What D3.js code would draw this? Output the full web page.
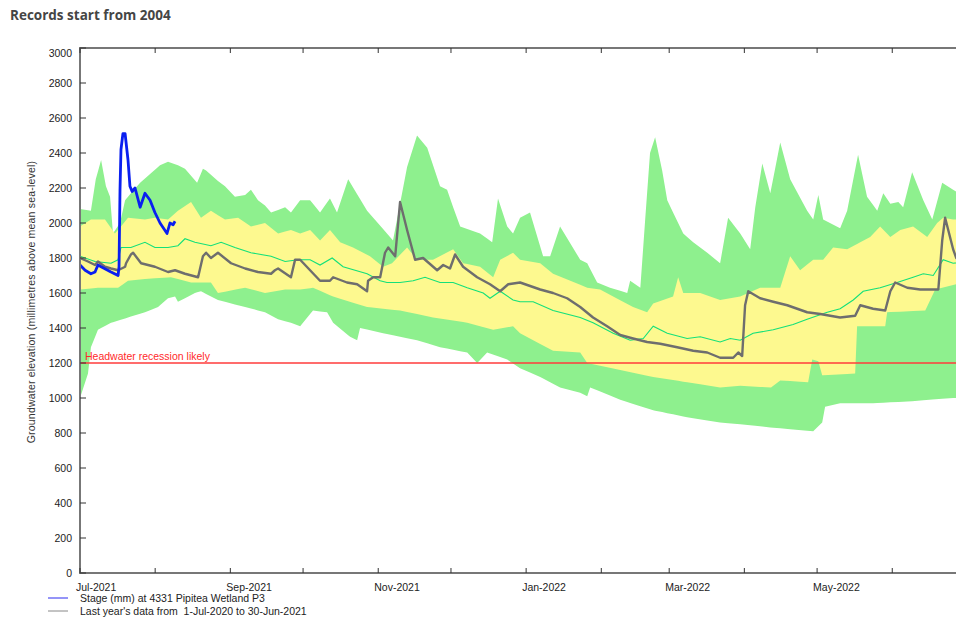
<!DOCTYPE html>
<html>
<head>
<script src="https://d3js.org/d3.v7.min.js"></script>
<style>
  body { margin: 0; background: #fff; }
  text { font-family: "Liberation Sans", Arial, sans-serif; }
  .title { font-family: "Open Sans", sans-serif; font-weight: 700; font-size: 13.5px; fill: #454545; }
  .tick-label { font-size: 10.5px; fill: #222; }
</style>
</head>
<body>
<svg id="chart" width="956" height="619"></svg>
<script>
// days since 1-Jul-2021, value in mm
const maxEnvelope = [[0,2080],[4.5,2070],[6.5,2250],[8.7,2360],[10.7,2210],[12.4,2150],[13.6,1940],[16.5,2000],[18.6,2130],[21,2170],[24.8,2230],[28.9,2280],[33,2330],[36.3,2350],[40.4,2330],[43.3,2310],[48.3,2230],[50.7,2310],[52,2300],[56.9,2240],[59.8,2210],[63.9,2150],[68.1,2160],[70.5,2190],[73.4,2130],[76.3,2100],[78.8,2060],[84.6,2090],[87,2060],[90.8,2130],[94.9,2130],[99,2060],[103.1,2140],[106,2060],[110.6,2250],[118.4,2070],[126.6,1940],[129.1,1900],[134.9,2320],[139,2500],[143.2,2430],[148.5,2210],[151.4,2190],[153.9,2090],[156.8,1980],[165,1940],[170,1890],[172.4,2140],[176.2,1980],[178.6,1940],[181.5,2030],[185.6,2060],[191,1810],[193.9,1810],[198,1980],[206.3,1790],[209.2,1770],[213.3,1660],[218.6,1630],[225.7,1600],[226.9,1670],[231.1,1630],[233.1,2020],[235.1,2400],[237.2,2490],[240.1,2300],[242.2,2130],[244.6,2060],[248.8,1940],[252.9,1890],[258.7,1830],[264,1770],[267.3,2030],[272.3,1940],[276.4,1850],[278.5,2090],[281.4,2340],[284.7,2170],[288.8,2460],[292.9,2250],[299.9,2070],[302.4,2020],[304.5,2160],[306.5,2020],[313.5,1970],[316.4,2070],[320.9,2390],[324.6,2150],[328.8,2070],[331.3,2170],[334.2,2110],[337.5,2120],[339.5,2090],[343.2,2290],[347.8,2130],[351.5,2020],[355.6,2230],[360.1,2190],[365,2150]];
const minEnvelope = [[0,1000],[3.3,1140],[4.5,1290],[7.4,1390],[12.8,1430],[19.8,1460],[26.8,1490],[32.2,1520],[36.3,1570],[39.2,1580],[40.4,1550],[47.4,1600],[49.9,1610],[56.9,1560],[68.1,1520],[76.3,1490],[81.7,1450],[87,1430],[90.8,1410],[96.1,1500],[101.9,1490],[104.4,1430],[111.4,1350],[114.3,1330],[115.5,1400],[125,1370],[139,1330],[148.5,1290],[159.7,1260],[163.8,1200],[167.9,1260],[176.2,1220],[181.5,1170],[189.8,1120],[198,1060],[206.3,1030],[209.2,1010],[210.4,1060],[222.8,990],[236.4,930],[250.4,890],[264,860],[272.3,850],[286,830],[302.4,810],[306.1,860],[307.3,950],[313.5,970],[327.1,970],[341.2,980],[360.1,1000],[365,1000]];
const upperQuartile = [[0,1980],[4.5,2020],[10.3,2020],[14.4,1940],[16.9,1980],[19.8,2030],[26.8,2020],[30.9,2030],[36.3,2020],[40.4,2070],[45.8,2120],[49.9,2030],[54,2070],[59.8,2020],[65.2,2030],[70.5,1980],[76.3,2000],[81.7,1940],[87,1960],[90.8,1940],[94.9,1960],[99,1900],[103.1,1960],[107.3,1890],[112.6,1860],[119.6,1810],[125,1750],[128.7,1770],[134.9,1860],[139,1790],[145.6,1790],[153.9,1850],[158,1770],[165,1750],[170.4,1690],[173.3,1790],[178.6,1830],[181.5,1790],[189.8,1770],[195.1,1710],[209.2,1630],[214.5,1620],[219.9,1580],[228.1,1520],[233.9,1490],[236.4,1540],[244.6,1580],[246.7,1690],[248.8,1600],[255.8,1600],[264,1560],[272.3,1580],[280.5,1630],[288.8,1630],[292.9,1810],[297,1730],[302.4,1790],[306.5,1790],[310.6,1860],[316.4,1850],[321.8,1890],[325.9,1920],[330,1980],[334.2,1920],[338.3,1960],[343.6,1980],[349.4,1920],[353.5,2000],[356,2030],[360.1,2020],[365,2020]];
const lowerQuartile = [[0,1620],[7.4,1630],[15.7,1630],[19.8,1670],[26.8,1680],[37.5,1690],[45.8,1660],[54,1660],[56.9,1600],[68.1,1630],[76.3,1600],[84.6,1620],[90.8,1620],[96.1,1630],[104.4,1580],[118.4,1520],[132,1500],[145.6,1460],[159.7,1430],[170.4,1390],[178.6,1410],[181.5,1370],[195.1,1270],[206.3,1260],[209.2,1200],[222.8,1160],[236.4,1120],[250.4,1090],[264,1060],[272.3,1070],[285,1060],[288.8,1100],[300.3,1090],[302,1220],[304.5,1210],[306.1,1130],[319.7,1140],[320.5,1410],[332.1,1410],[332.9,1490],[348.6,1500],[352.7,1620],[361.4,1650],[365,1650]];
const medianLine = [[0,1810],[6.2,1780],[12.8,1770],[15.7,1790],[16.9,1860],[21,1860],[26.8,1890],[30.9,1860],[36.3,1860],[40.4,1870],[43.3,1910],[47.4,1890],[54,1870],[58.2,1890],[63.9,1860],[70.5,1830],[78.8,1810],[84.6,1780],[89.9,1790],[94.9,1790],[99,1760],[104,1800],[108.5,1750],[118.4,1710],[123.8,1670],[126.6,1660],[132,1660],[137.4,1670],[142.3,1690],[148.5,1660],[153.9,1660],[159.7,1630],[166.3,1600],[169.1,1570],[173.3,1610],[178.6,1560],[181.5,1550],[186.9,1550],[195.1,1500],[206.3,1460],[211.6,1430],[219.9,1370],[226.9,1330],[232.3,1340],[236.4,1410],[242.2,1370],[250.4,1340],[255.8,1350],[264,1320],[268.2,1340],[272.3,1330],[277.6,1370],[285.9,1390],[294.1,1420],[299.9,1450],[308.2,1490],[313.5,1510],[318.9,1560],[323,1610],[330,1630],[337,1660],[343.6,1690],[347.8,1710],[351.9,1700],[356,1790],[360.1,1770],[365,1780]];
const lastYear = [[0,1800],[3.3,1780],[6.2,1760],[7.4,1780],[10.3,1750],[12.8,1740],[15.7,1730],[18.6,1750],[19,1770],[21,1820],[21.9,1830],[25.2,1770],[30.9,1750],[36.3,1720],[39.2,1730],[43.3,1710],[48.7,1690],[50.7,1810],[52,1830],[54,1800],[56.9,1830],[62.3,1770],[68.1,1740],[73.4,1720],[78.8,1710],[80.4,1730],[81.7,1740],[87,1690],[88.7,1790],[90.8,1790],[94.9,1730],[99,1670],[103.1,1670],[104.4,1690],[110.1,1660],[114.3,1650],[118.4,1610],[118.8,1670],[120.9,1690],[123.8,1690],[125.8,1830],[127.1,1860],[130,1810],[132,2120],[134.9,1960],[138.2,1790],[141.5,1800],[147.3,1730],[149.8,1760],[152.6,1740],[154.7,1820],[158,1750],[163.8,1690],[169.1,1650],[173.3,1610],[176.6,1650],[181.5,1660],[189.8,1620],[195.1,1600],[200.9,1570],[206.3,1520],[211.6,1460],[217.4,1410],[222.8,1360],[228.1,1340],[233.9,1320],[239.3,1310],[246.3,1290],[252.9,1270],[258.7,1260],[264,1230],[269.4,1230],[271.5,1260],[273.1,1240],[274.3,1530],[275.6,1610],[280.5,1570],[285.9,1550],[291.7,1530],[299.9,1490],[305.3,1480],[313.5,1460],[319.7,1470],[321.8,1530],[327.1,1510],[332.1,1500],[334.2,1610],[336.2,1660],[341.2,1630],[346.5,1620],[354,1620],[355.6,1900],[356.8,2030],[360.1,1850],[361.4,1800],[365,1740]];
const currentStage = [[0,1760],[2.1,1730],[4.5,1710],[6.2,1720],[7.4,1760],[8.7,1750],[12.8,1720],[15.7,1700],[16.1,1750],[16.5,2190],[16.9,2420],[17.7,2510],[18.6,2510],[19.8,2360],[20.6,2210],[21.5,2180],[22.7,2200],[24.8,2090],[26.8,2170],[28.9,2130],[30.9,2060],[33,2000],[35.9,1940],[37.1,2000],[38.4,1990],[39.2,2010]];
const recessionLevel = 1200;
const recessionLabel = 'Headwater recession likely';
const yTicks = [0,200,400,600,800,1000,1200,1400,1600,1800,2000,2200,2400,2600,2800,3000];
const legendLabels = ['Stage (mm) at 4331 Pipitea Wetland P3', "Last year's data from  1-Jul-2020 to 30-Jun-2021"];

const svg = d3.select('#chart');
const start = new Date(2021, 6, 1);
const end = new Date(2022, 6, 1);
const toDate = (d) => new Date(start.getTime() + d * 864e5);

const x = d3.scaleTime().domain([start, end]).range([80, 965]);
const y = d3.scaleLinear().domain([0, 3000]).range([573, 48]);
const axisColor = '#777';

svg.append('rect').attr('width', 956).attr('height', 619).attr('fill', '#fff');

svg.append('text').attr('class', 'title').attr('x', 10).attr('y', 20).text('Records start from 2004');

svg.append('clipPath').attr('id', 'plotClip')
  .append('rect').attr('x', 80).attr('y', 48).attr('width', 885).attr('height', 525);

const plot = svg.append('g').attr('clip-path', 'url(#plotClip)');

// envelopes: merge min/max and quartiles onto a common set of days
function band(lowArr, highArr) {
  const days = Array.from(new Set(lowArr.map(d => d[0]).concat(highArr.map(d => d[0])))).sort((a, b) => a - b);
  const lo = d3.scaleLinear().domain(lowArr.map(d => d[0])).range(lowArr.map(d => d[1]));
  const hi = d3.scaleLinear().domain(highArr.map(d => d[0])).range(highArr.map(d => d[1]));
  return days.map(d => ({ day: d, low: lo(d), high: hi(d) }));
}

const area = d3.area()
  .x(d => x(toDate(d.day)))
  .y0(d => y(d.low))
  .y1(d => y(d.high));

plot.append('path').datum(band(minEnvelope, maxEnvelope)).attr('d', area).attr('fill', '#8ef08e');
plot.append('path').datum(band(lowerQuartile, upperQuartile)).attr('d', area).attr('fill', '#fdf98f');

const line = d3.line().x(d => x(toDate(d[0]))).y(d => y(d[1]));

plot.append('path').datum(medianLine).attr('d', line)
  .attr('fill', 'none').attr('stroke', '#13e07a').attr('stroke-width', 1.1);

plot.append('line')
  .attr('x1', 80).attr('x2', 965)
  .attr('y1', y(recessionLevel)).attr('y2', y(recessionLevel))
  .attr('stroke', '#ff3b3b').attr('stroke-width', 1.5);

plot.append('text')
  .attr('x', 85).attr('y', y(recessionLevel) - 3)
  .attr('fill', '#ff2a2a').attr('font-size', 10.5)
  .text(recessionLabel);

plot.append('path').datum(lastYear).attr('d', line)
  .attr('fill', 'none').attr('stroke', '#6e6e6e').attr('stroke-width', 2.4)
  .attr('stroke-linejoin', 'round');

plot.append('path').datum(currentStage).attr('d', line)
  .attr('fill', 'none').attr('stroke', '#0a1ff0').attr('stroke-width', 2.8)
  .attr('stroke-linejoin', 'round');

// frame
svg.append('line').attr('x1', 80).attr('x2', 80).attr('y1', 47).attr('y2', 574)
  .attr('stroke', axisColor).attr('stroke-width', 2);
svg.append('line').attr('x1', 79).attr('x2', 965).attr('y1', 48).attr('y2', 48)
  .attr('stroke', axisColor).attr('stroke-width', 2);
svg.append('line').attr('x1', 79).attr('x2', 965).attr('y1', 573).attr('y2', 573)
  .attr('stroke', axisColor).attr('stroke-width', 2);

// y axis ticks
const yAxis = svg.append('g');
yAxis.selectAll('line').data(yTicks).join('line')
  .attr('x1', 80).attr('x2', 86)
  .attr('y1', d => y(d)).attr('y2', d => y(d))
  .attr('stroke', '#333').attr('stroke-width', 1);
yAxis.selectAll('text').data(yTicks).join('text')
  .attr('class', 'tick-label')
  .attr('x', 72).attr('y', d => Math.max(y(d), 53))
  .attr('dy', '0.35em').attr('text-anchor', 'end')
  .text(d => d);

// x axis ticks (monthly), top and bottom
const months = d3.timeMonth.range(start, end);
const xAxis = svg.append('g');
xAxis.selectAll('line.bottom').data(months).join('line')
  .attr('class', 'bottom')
  .attr('x1', d => x(d)).attr('x2', d => x(d))
  .attr('y1', 573).attr('y2', 568)
  .attr('stroke', '#333');
xAxis.selectAll('line.top').data(months).join('line')
  .attr('class', 'top')
  .attr('x1', d => x(d)).attr('x2', d => x(d))
  .attr('y1', 48).attr('y2', 53)
  .attr('stroke', '#333');
xAxis.selectAll('text').data(months.filter((d, i) => i % 2 === 0)).join('text')
  .attr('class', 'tick-label')
  .attr('x', d => x(d) - 4).attr('y', 587)
  .attr('dy', '0.35em')
  .text(d3.timeFormat('%b-%Y'));

svg.append('text')
  .attr('transform', 'translate(35,302) rotate(-90)')
  .attr('text-anchor', 'middle')
  .attr('font-size', 10.5).attr('fill', '#333')
  .attr('letter-spacing', '0.2px')
  .text('Groundwater elevation (millimetres above mean sea-level)');

// legend
const legendColors = ['#2a2af0', '#888'];
const legend = svg.append('g');
legend.selectAll('line').data(legendLabels).join('line')
  .attr('x1', 48).attr('x2', 68)
  .attr('y1', (d, i) => 598 + i * 13).attr('y2', (d, i) => 598 + i * 13)
  .attr('stroke', (d, i) => legendColors[i]).attr('stroke-width', 1);
legend.selectAll('text').data(legendLabels).join('text')
  .attr('class', 'tick-label')
  .attr('x', 80).attr('y', (d, i) => 598 + i * 13)
  .attr('dy', '0.35em')
  .style('white-space', 'pre')
  .text(d => d);
</script>
</body>
</html>
